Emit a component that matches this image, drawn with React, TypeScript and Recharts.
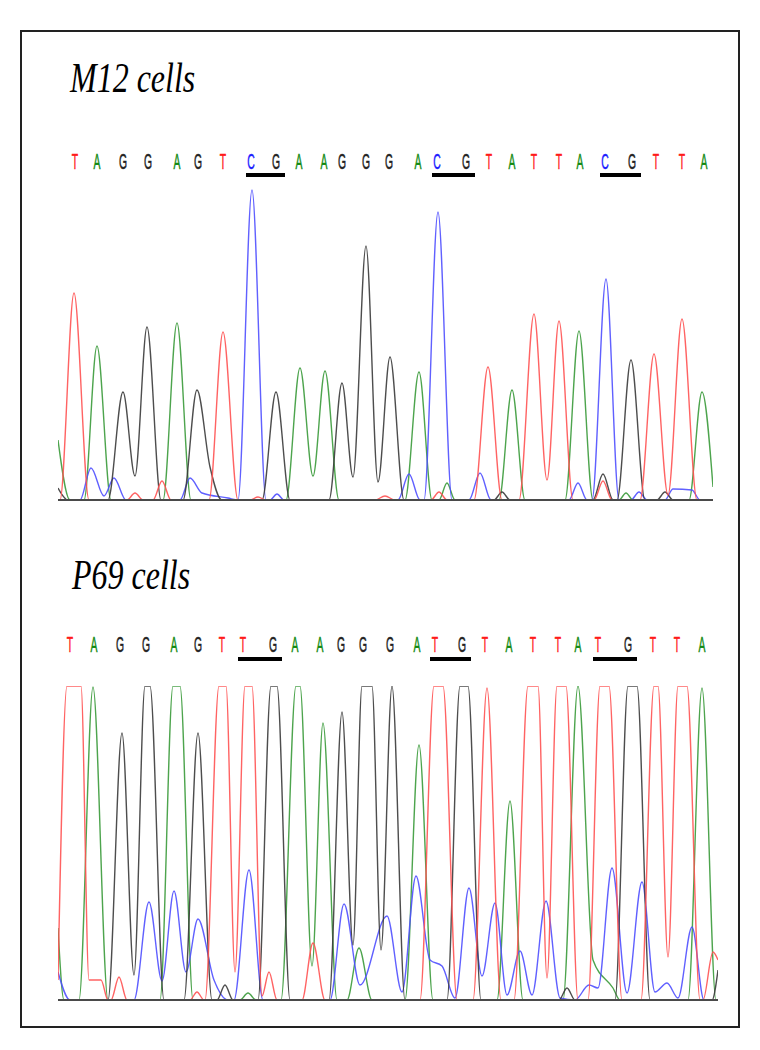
import { LineChart, Line, XAxis, YAxis, ReferenceArea, ReferenceDot } from 'recharts';

type Pt = { x: number; y: number };
const pts = (arr: number[][]): Pt[] => arr.map(([x, y]) => ({ x, y }));

// base calls and where they sit along the scan axis
const SEQ_M12 = 'TAGGAGTCGAAGGGACGTATTACGTTA'.split('');
const SEQ_P69 = 'TAGGAGTTGAAGGGATGTATTATGTTA'.split('');
const CALLS_M12 = [17, 39, 65, 90, 119, 140, 165, 193, 218, 241, 266, 284, 308, 331, 360, 379, 408, 431, 454, 476, 501, 522, 547, 574, 598, 624, 646];
const CALLS_P69 = [12, 36, 62, 88, 116, 140, 164, 185, 215, 237, 262, 283, 305, 332, 359, 377, 404, 427, 451, 475, 500, 520, 540, 570, 595, 619, 644];
// underlined CpG sites (index pairs into the sequence)
const SITES = [[7, 8], [15, 16], [22, 23]];

// M12 traces (scan, signal)
const M12_T = pts([[0, 0], [2, 0], [16, 207], [31, 0], [69, 0], [77, 7], [85, 0], [95, 0], [104, 19], [113, 0], [151, 0], [165, 168], [180, 0], [192, 0], [200, 3], [208, 0], [317, 0], [327, 4], [337, 0], [373, 0], [381, 8], [389, 0], [416, 0], [430, 133], [444, 0], [461, 0], [476, 186], [489, 20], [501, 179], [515, 0], [536, 0], [545, 19], [554, 0], [582, 0], [596, 146], [610, 5], [624, 181], [639, 0], [655, 0]]);
const M12_A = pts([[0, 60], [12, 0], [26, 0], [39, 154], [53, 0], [105, 0], [119, 177], [133, 0], [228, 0], [242, 132], [255, 24], [267, 129], [281, 0], [347, 0], [361, 128], [374, 0], [381, 0], [389, 17], [397, 0], [441, 0], [454, 110], [467, 0], [507, 0], [521, 169], [535, 0], [561, 0], [568, 7], [575, 0], [631, 0], [644, 108], [655, 13]]);
const M12_G = pts([[0, 12], [10, 0], [50, 0], [65, 108], [77, 24], [89, 173], [103, 0], [125, 0], [139, 110], [152, 33], [164, 0], [204, 0], [218, 108], [232, 0], [271, 0], [284, 117], [295, 23], [308, 254], [320, 18], [332, 143], [346, 0], [436, 0], [444, 8], [452, 0], [535, 0], [545, 26], [555, 0], [559, 0], [573, 140], [587, 0], [599, 0], [607, 8], [615, 0], [655, 0]]);
const M12_C = pts([[0, 0], [22, 0], [33, 32], [46, 4], [56, 22], [68, 0], [122, 0], [132, 22], [144, 7], [170, 2], [180, 0], [194, 310], [208, 0], [212, 0], [219, 6], [226, 0], [340, 0], [351, 26], [362, 0], [366, 0], [380, 288], [394, 0], [411, 0], [422, 27], [433, 0], [511, 0], [520, 17], [529, 0], [534, 0], [548, 221], [561, 0], [573, 0], [581, 8], [589, 0], [607, 0], [615, 11], [634, 10], [642, 0], [655, 0]]);

// P69 traces (saturated peaks sit at the ceiling)
const P69_T = pts([[0, 20], [9, 314], [23, 314], [31, 20], [43, 20], [50, 0], [53, 0], [61, 23], [69, 0], [132, 0], [139, 8], [146, 0], [147, 0], [161, 314], [168, 314], [177, 28], [187, 314], [194, 314], [204, 4], [211, 28], [219, 0], [244, 0], [255, 57], [267, 0], [362, 0], [376, 314], [385, 314], [399, 0], [415, 0], [429, 312], [443, 0], [456, 0], [470, 314], [480, 314], [489, 22], [499, 314], [508, 314], [520, 0], [530, 0], [542, 314], [551, 314], [564, 0], [583, 0], [596, 314], [600, 314], [610, 43], [620, 314], [629, 314], [642, 0], [645, 0], [655, 48], [660, 40]]);
const P69_A = pts([[0, 72], [6, 0], [21, 0], [35, 313], [50, 0], [102, 0], [115, 314], [122, 314], [135, 0], [182, 0], [190, 7], [198, 0], [223, 0], [238, 314], [242, 314], [254, 34], [265, 277], [279, 0], [289, 0], [301, 52], [314, 0], [347, 0], [361, 255], [375, 0], [439, 0], [452, 199], [465, 0], [505, 0], [520, 314], [535, 40], [555, 12], [562, 0], [630, 0], [644, 312], [658, 0], [660, 0]]);
const P69_G = pts([[0, 0], [50, 0], [64, 267], [76, 25], [87, 314], [92, 314], [106, 0], [126, 0], [140, 267], [154, 0], [159, 0], [167, 15], [175, 0], [200, 0], [213, 314], [219, 314], [232, 0], [271, 0], [284, 288], [295, 55], [304, 314], [314, 314], [323, 50], [334, 314], [347, 0], [389, 0], [402, 314], [410, 314], [423, 0], [501, 0], [509, 12], [517, 0], [557, 0], [570, 314], [579, 314], [592, 0], [654, 0], [660, 30]]);
const P69_C = pts([[0, 28], [12, 0], [76, 0], [91, 98], [104, 19], [116, 109], [128, 28], [140, 81], [156, 20], [170, 0], [176, 0], [191, 130], [205, 0], [272, 0], [286, 96], [302, 15], [329, 84], [344, 8], [358, 124], [372, 40], [384, 34], [397, 2], [411, 112], [424, 24], [437, 97], [449, 5], [462, 49], [474, 5], [488, 99], [502, 2], [517, 0], [531, 15], [540, 12], [554, 132], [569, 7], [584, 118], [597, 8], [609, 17], [620, 2], [634, 73], [646, 0], [660, 0]]);

const LETTER_COLOR: Record<string, string> = { A: '#118a11', C: '#1a1aff', G: '#222222', T: '#ff1a1a' };
const TRACE_COLOR: Record<string, string> = { A: '#3a9a3a', C: '#4f4fff', G: '#3a3a3a', T: '#ff5252' };
const CHANNELS = ['A', 'C', 'G', 'T'];

interface PanelProps {
  top: number;
  marginTop: number;
  xMax: number;
  yMax: number;
  seq: string[];
  calls: number[];
  traces: Record<string, Pt[]>;
  letterY: number;
  bar: [number, number];
}

const TracePanel = ({ top, marginTop, xMax, yMax, seq, calls, traces, letterY, bar }: PanelProps) => {
  const height = 502;
  return (
    <div style={{ position: 'absolute', left: 0, top, width: 760, height }}>
      <LineChart width={760} height={height} margin={{ top: marginTop, right: 760 - 58 - xMax, bottom: 0, left: 58 }}>
        <XAxis
          dataKey="x"
          type="number"
          domain={[0, xMax]}
          height={2}
          tick={false}
          tickLine={false}
          axisLine={{ stroke: '#4a4a4a', strokeWidth: 2 }}
          allowDataOverflow
        />
        <YAxis hide domain={[0, yMax]} allowDataOverflow />
        {SITES.map(([i, j]) => (
          <ReferenceArea
            key={i}
            x1={calls[i] - 5}
            x2={calls[j] + 9}
            y1={bar[0]}
            y2={bar[1]}
            ifOverflow="visible"
            fill="#000"
            fillOpacity={1}
            stroke="none"
          />
        ))}
        {seq.map((b, i) => (
          <ReferenceDot
            key={i}
            x={calls[i]}
            y={letterY}
            ifOverflow="visible"
            shape={(p: any) => (
              <g transform={`translate(${p.cx},${p.cy})`}>
                <g transform="scale(0.8,1.75)">
                  <text
                    x={0}
                    y={0}
                    textAnchor="middle"
                    fontFamily="Liberation Sans, Arial, sans-serif"
                    fontSize={13}
                    fill={LETTER_COLOR[b]}
                    stroke={LETTER_COLOR[b]}
                    strokeWidth={0.3}
                  >
                    {b}
                  </text>
                </g>
              </g>
            )}
          />
        ))}
        {CHANNELS.map((b) => (
          <Line
            key={b}
            data={traces[b]}
            dataKey="y"
            type="monotone"
            stroke={TRACE_COLOR[b]}
            strokeWidth={1.4}
            strokeOpacity={0.9}
            dot={false}
            isAnimationActive={false}
          />
        ))}
      </LineChart>
    </div>
  );
};

export default function App() {
  return (
    <div style={{ position: 'absolute', left: 0, top: 0, width: 760, height: 1050, background: '#fff' }}>
      <TracePanel
        top={0}
        marginTop={188}
        xMax={655}
        yMax={312}
        seq={SEQ_M12}
        calls={CALLS_M12}
        traces={{ A: M12_A, C: M12_C, G: M12_G, T: M12_T }}
        letterY={331}
        bar={[323, 327]}
      />
      <TracePanel
        top={500}
        marginTop={186}
        xMax={660}
        yMax={314}
        seq={SEQ_P69}
        calls={CALLS_P69}
        traces={{ A: P69_A, C: P69_C, G: P69_G, T: P69_T }}
        letterY={348}
        bar={[339, 343]}
      />
      <svg width={760} height={1050} style={{ position: 'absolute', left: 0, top: 0, pointerEvents: 'none' }}>
        <rect x={21} y={31} width={718} height={996} fill="none" stroke="#222" strokeWidth={2} />
        <text transform="translate(70,92) scale(1,1.3)" fontFamily="Liberation Serif, Times New Roman, serif" fontStyle="italic" fontSize={32} fill="#000">
          M12 cells
        </text>
        <text transform="translate(72,589) scale(1,1.3)" fontFamily="Liberation Serif, Times New Roman, serif" fontStyle="italic" fontSize={32} fill="#000">
          P69 cells
        </text>
      </svg>
    </div>
  );
}
